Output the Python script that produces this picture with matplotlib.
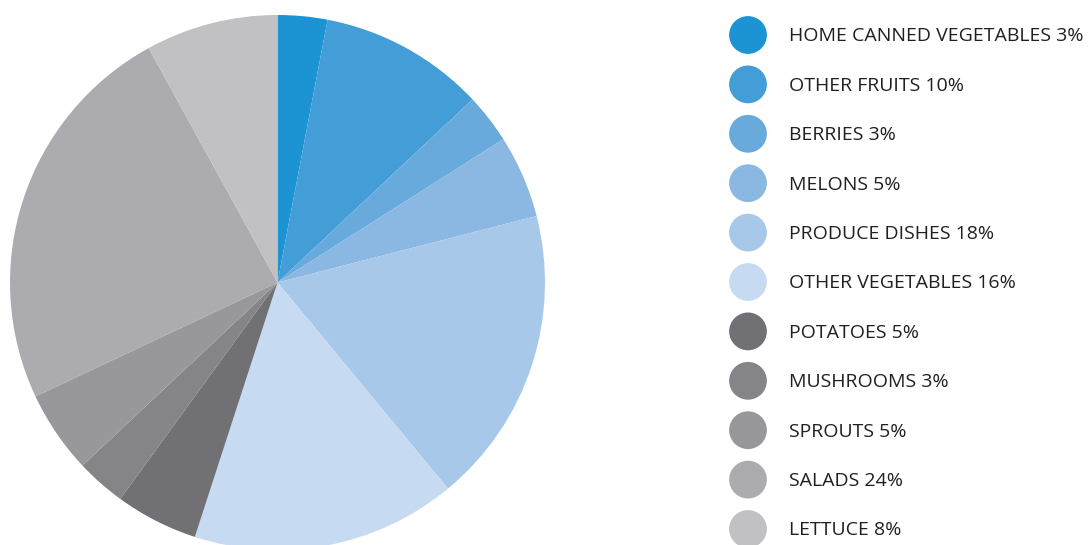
import matplotlib.pyplot as plt

labels = ["HOME CANNED VEGETABLES", "OTHER FRUITS", "BERRIES", "MELONS",
          "PRODUCE DISHES", "OTHER VEGETABLES", "POTATOES", "MUSHROOMS",
          "SPROUTS", "SALADS", "LETTUCE"]
shares = [3, 10, 3, 5, 18, 16, 5, 3, 5, 24, 8]
colors = ["#1c93d2", "#439ed8", "#68aadc", "#8ab8e2", "#a8c8ea", "#c6dbf1",
          "#717074", "#858589", "#98979b", "#acabaf", "#c1c1c3"]

W, H = 1092, 545
fig = plt.figure(figsize=(W / 100, H / 100), dpi=100)

# pie: centre ~ (277, 282), radius ~ 267 px
cx, cy, r = 277.5, 282.5, 267.5
ax = fig.add_axes([(cx - r) / W, (H - cy - r) / H, 2 * r / W, 2 * r / H])
ax.pie(shares, colors=colors, startangle=90, counterclock=False,
       wedgeprops=dict(linewidth=0))
ax.set_aspect("equal")
ax.set_xlim(-1, 1)
ax.set_ylim(-1, 1)
ax.axis("off")

# legend drawn by hand: circles + labels
step = 49.4
top = 35 - step / 2
lg = fig.add_axes([700 / W, (H - top - step * 11) / H, 392 / W, step * 11 / H])
lg.set_xlim(700, 1092)
lg.set_ylim(10.5, -0.5)
lg.axis("off")
idx = list(range(len(labels)))
lg.scatter([748] * len(idx), idx, s=740, c=colors, linewidths=0, clip_on=False)
for i, (lab, v) in enumerate(zip(labels, shares)):
    lg.text(789, i + 0.03, f"{lab} {v}%", va="center", ha="left", fontsize=14,
            family="Open Sans", color="#231f20", clip_on=False)

fig.savefig("out.png", dpi=100)
